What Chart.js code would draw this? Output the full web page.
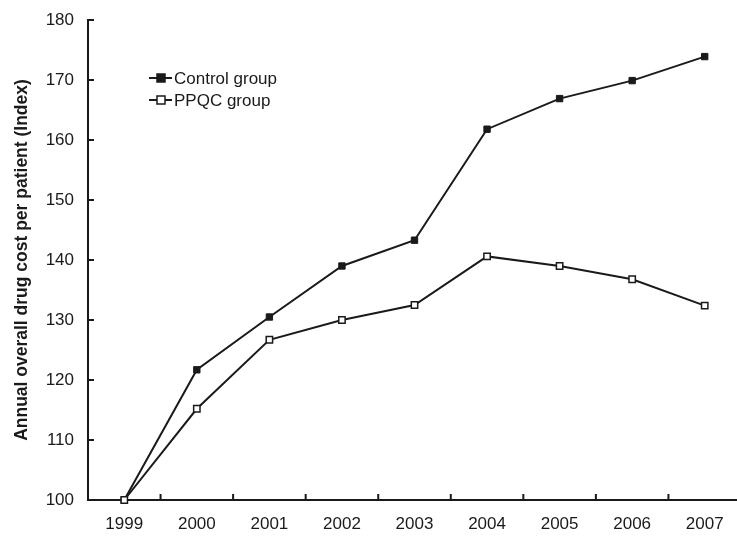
<!DOCTYPE html>
<html>
<head>
<meta charset="utf-8">
<script src="https://cdn.jsdelivr.net/npm/chart.js@4.4.0/dist/chart.umd.min.js"></script>
<style>
  html, body { margin: 0; padding: 0; background: #fff; overflow: hidden; }
  #wrap { width: 747px; height: 546px; }
</style>
</head>
<body>
<div id="wrap"><canvas id="c" width="747" height="546" style="width:747px;height:546px"></canvas></div>
<script>
const years = ['1999','2000','2001','2002','2003','2004','2005','2006','2007'];
const controlGroup = [100, 121.7, 130.5, 139.0, 143.3, 161.8, 166.9, 169.9, 173.9];
const ppqcGroup = [100, 115.2, 126.7, 130.0, 132.5, 140.6, 139.0, 136.8, 132.4];
const yTicks = [100, 110, 120, 130, 140, 150, 160, 170, 180];
const seriesNames = ['Control group', 'PPQC group'];
const yTitle = 'Annual overall drug cost per patient (Index)';

const FONT = '"Liberation Sans", Arial, Helvetica, sans-serif';
const INK = '#1a1a1a';

const innerTicks = {
  id: 'innerTicks',
  afterDatasetsDraw(chart) {
    const ctx = chart.ctx;
    const x = chart.scales.x, y = chart.scales.y;
    const len = 6;
    ctx.save();
    ctx.strokeStyle = INK;
    ctx.lineWidth = 2;
    ctx.beginPath();
    yTicks.forEach(v => {
      if (v === y.min) return;
      const py = y.getPixelForValue(v);
      ctx.moveTo(x.left, py);
      ctx.lineTo(x.left + len, py);
    });
    for (let i = 0; i < years.length - 1; i++) {
      const px = (x.getPixelForValue(i) + x.getPixelForValue(i + 1)) / 2;
      ctx.moveTo(px, y.bottom);
      ctx.lineTo(px, y.bottom - len);
    }
    ctx.stroke();
    ctx.restore();
  },
  afterDraw(chart) {
    const ctx = chart.ctx;
    const area = chart.chartArea;
    const lx = area.left + 61, ly = area.top + 58, gap = 22;
    ctx.save();
    ctx.font = '17px ' + FONT;
    ctx.textBaseline = 'middle';
    ctx.fillStyle = INK;
    chart.data.datasets.forEach((ds, i) => {
      const yy = ly + i * gap;
      ctx.strokeStyle = INK;
      ctx.lineWidth = 2;
      ctx.beginPath();
      ctx.moveTo(lx, yy);
      ctx.lineTo(lx + 23, yy);
      ctx.stroke();
      ctx.fillStyle = ds.pointBackgroundColor;
      ctx.lineWidth = 1.5;
      ctx.fillRect(lx + 8, yy - 4, 8, 8);
      ctx.strokeRect(lx + 8, yy - 4, 8, 8);
      ctx.fillStyle = INK;
      ctx.fillText(ds.label, lx + 25, yy + 1);
    });
    ctx.restore();
  }
};

new Chart(document.getElementById('c'), {
  type: 'line',
  data: {
    labels: years,
    datasets: [
      {
        label: seriesNames[0],
        data: controlGroup,
        borderColor: INK,
        borderWidth: 2,
        pointStyle: 'rect',
        pointRadius: 4.5,
        pointBackgroundColor: INK,
        pointBorderColor: INK,
        pointBorderWidth: 1,
        tension: 0,
        clip: false,
        order: 1
      },
      {
        label: seriesNames[1],
        data: ppqcGroup,
        borderColor: INK,
        borderWidth: 2,
        pointStyle: 'rect',
        pointRadius: 4.5,
        pointBackgroundColor: '#ffffff',
        pointBorderColor: INK,
        pointBorderWidth: 1.5,
        tension: 0,
        clip: false,
        order: 0
      }
    ]
  },
  options: {
    responsive: false,
    animation: false,
    devicePixelRatio: 1,
    layout: { padding: { top: 20, left: 0, right: 0, bottom: 0 } },
    plugins: { legend: { display: false }, tooltip: { enabled: false } },
    scales: {
      x: {
        offset: true,
        grid: { display: true, drawOnChartArea: false, drawTicks: false, offset: true },
        border: { display: true, color: INK, width: 2 },
        ticks: { color: INK, font: { family: FONT, size: 17 }, padding: 14, maxRotation: 0 },
        afterFit(scale) { scale.height = 46; scale.paddingLeft = 0; scale.paddingRight = 0; }
      },
      y: {
        min: 100,
        max: 180,
        afterBuildTicks(scale) { scale.ticks = yTicks.map(v => ({ value: v })); },
        grid: { display: true, drawOnChartArea: false, drawTicks: false },
        border: { display: true, color: INK, width: 2 },
        ticks: { color: INK, font: { family: FONT, size: 17 }, padding: 14 },
        title: {
          display: true,
          text: yTitle,
          color: INK,
          font: { family: FONT, size: 17.5, weight: 'bold' },
          padding: { top: 12, bottom: 0 }
        },
        afterFit(scale) { scale.width = 88; scale.paddingTop = 0; scale.paddingBottom = 0; }
      }
    }
  },
  plugins: [innerTicks]
});
</script>
</body>
</html>
